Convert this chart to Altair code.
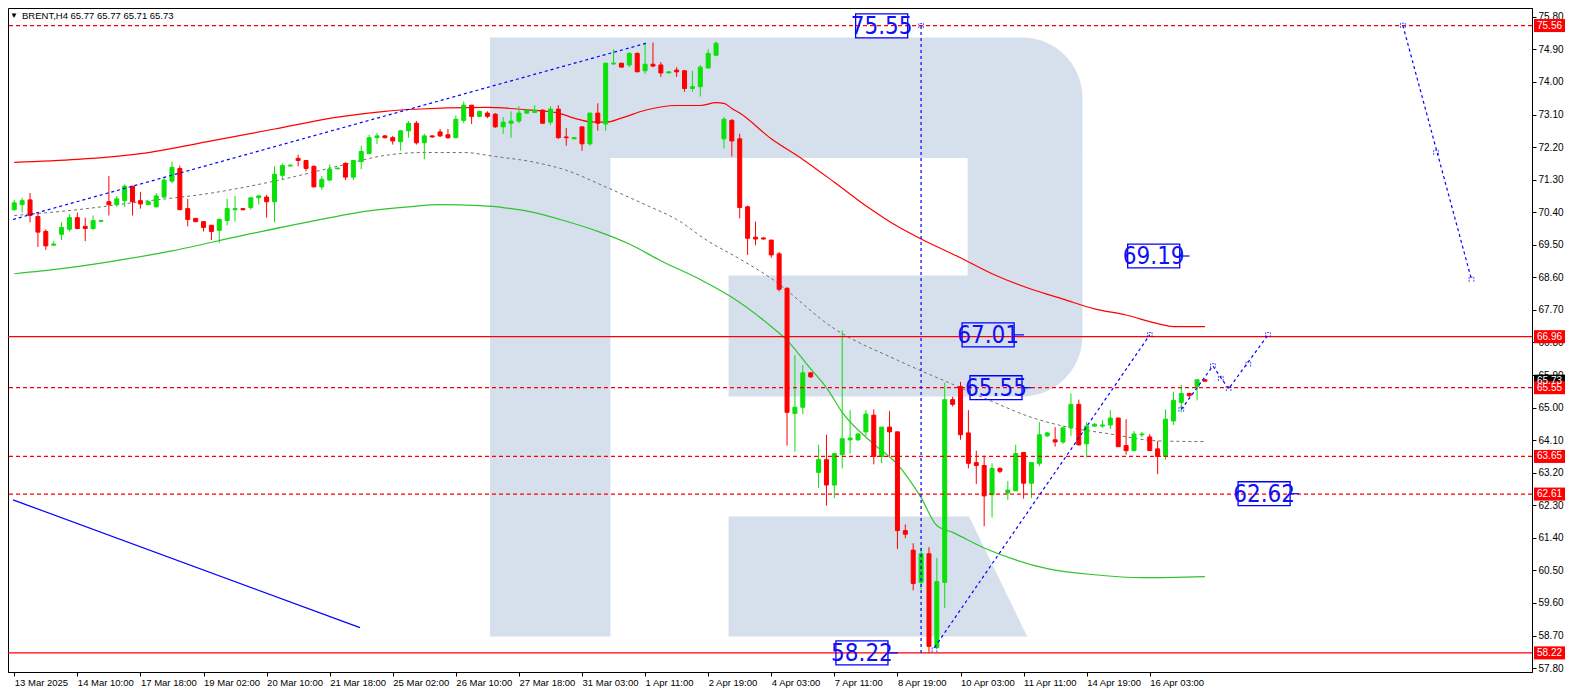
import altair as alt
import pandas as pd

# ---------------- data ----------------
opens = [70.47, 70.61, 70.74, 70.28, 69.87, 69.49, 69.79, 69.93, 70.25, 70.01,
         69.95, 70.15, 70.69, 70.61, 70.72, 71.12, 70.72, 70.61, 70.55, 70.82,
         71.26, 71.61, 70.50, 70.23, 70.14, 70.04, 69.90, 70.17, 70.47, 70.50,
         70.53, 70.80, 70.82, 70.69, 71.42, 71.68, 71.89, 71.83, 71.67, 71.10,
         71.29, 71.60, 71.75, 71.37, 71.80, 72.02, 72.46, 72.51, 72.46, 72.35,
         72.65, 72.86, 72.32, 72.51, 72.62, 72.54, 72.46, 72.94, 73.36, 73.05,
         73.14, 73.11, 72.76, 72.86, 72.92, 73.14, 73.16, 73.22, 72.89, 73.25,
         72.48, 72.43, 72.76, 72.29, 73.14, 72.84, 74.50, 74.52, 74.47, 74.79,
         74.31, 74.49, 74.47, 74.25, 74.33, 74.31, 73.82, 73.87, 74.39, 74.74,
         72.43, 72.94, 72.43, 70.55, 69.71, 69.69, 69.63, 69.25, 68.30, 64.84,
         65.01, 65.96, 63.21, 63.56, 62.86, 63.70, 64.11, 64.11, 64.33, 64.79,
         63.65, 64.46, 64.33, 61.60, 61.06, 60.17, 60.96, 58.37, 60.17, 65.22,
         65.58, 64.30, 63.48, 63.40, 62.59, 63.32, 62.64, 62.70, 63.76, 62.91,
         63.46, 64.22, 64.11, 64.05, 64.44, 65.09, 64.00, 64.49, 64.49, 64.52,
         64.71, 63.95, 63.81, 64.25, 64.19, 63.86, 63.65, 64.63, 65.14, 65.39,
         65.58, 65.77]
highs = [70.74, 70.80, 70.93, 70.39, 69.93, 69.60, 70.12, 70.34, 70.39, 70.25,
         70.31, 70.18, 71.40, 70.85, 71.17, 71.12, 70.96, 70.69, 70.93, 71.37,
         71.80, 71.69, 70.77, 70.23, 70.14, 70.04, 70.23, 70.77, 70.85, 70.52,
         70.80, 70.88, 70.88, 71.67, 71.75, 71.72, 71.99, 71.83, 71.69, 71.40,
         71.72, 71.63, 71.78, 71.83, 72.24, 72.54, 72.59, 72.53, 72.51, 72.67,
         72.92, 72.92, 72.57, 72.52, 72.70, 72.70, 73.07, 73.46, 73.36, 73.19,
         73.19, 73.14, 73.03, 73.19, 73.33, 73.24, 73.36, 73.25, 73.33, 73.36,
         72.73, 72.48, 72.76, 73.14, 73.41, 74.52, 74.90, 74.52, 74.82, 74.82,
         75.09, 75.09, 74.55, 74.30, 74.41, 74.33, 74.31, 74.47, 74.90, 75.12,
         73.03, 72.97, 72.57, 70.58, 70.14, 69.70, 69.63, 69.30, 68.32, 66.45,
         66.18, 65.98, 63.97, 64.25, 63.73, 67.13, 64.93, 64.30, 64.93, 64.95,
         64.46, 64.90, 64.33, 61.77, 61.25, 61.14, 61.14, 60.85, 65.69, 65.30,
         65.71, 64.93, 63.81, 63.67, 63.46, 63.35, 62.97, 63.97, 63.76, 63.48,
         64.60, 64.33, 64.46, 64.49, 65.39, 65.22, 64.60, 64.57, 64.65, 64.93,
         64.73, 64.68, 64.35, 64.33, 64.27, 64.08, 64.95, 65.44, 65.63, 65.41,
         65.77, 65.77]
lows = [70.44, 70.39, 70.12, 69.44, 69.36, 69.47, 69.63, 69.87, 69.93, 69.60,
        69.90, 70.14, 70.31, 70.55, 70.55, 70.31, 70.50, 70.61, 70.53, 70.80,
        71.20, 70.47, 70.01, 70.12, 69.87, 69.63, 69.55, 70.04, 70.14, 70.45,
        70.47, 70.61, 70.25, 70.12, 71.31, 71.67, 71.67, 71.53, 71.10, 71.02,
        71.26, 71.59, 71.29, 71.29, 71.59, 72.02, 72.29, 72.44, 72.27, 72.10,
        72.46, 72.27, 71.86, 72.46, 72.48, 72.43, 72.46, 72.86, 72.84, 73.05,
        73.00, 72.73, 72.57, 72.46, 72.86, 73.12, 73.14, 72.84, 72.81, 72.43,
        72.24, 72.42, 72.10, 72.24, 72.65, 72.65, 74.47, 74.41, 74.41, 74.28,
        74.22, 74.41, 74.14, 74.24, 74.14, 73.73, 73.73, 73.60, 74.36, 74.71,
        72.16, 71.94, 70.23, 69.22, 69.49, 69.64, 69.14, 68.21, 63.95, 63.78,
        64.82, 65.82, 62.78, 62.29, 62.50, 63.32, 63.73, 64.08, 64.22, 63.43,
        63.46, 63.67, 61.09, 61.39, 59.95, 59.98, 58.22, 58.37, 59.46, 65.03,
        64.11, 63.32, 62.89, 61.72, 61.96, 63.19, 62.45, 62.70, 62.48, 62.50,
        63.38, 64.19, 63.92, 64.00, 64.22, 63.95, 63.62, 64.46, 64.44, 64.41,
        63.92, 63.70, 63.81, 64.19, 63.81, 63.16, 63.56, 64.52, 64.87, 65.28,
        65.20, 65.71]
closes = [70.66, 70.72, 70.31, 69.85, 69.47, 69.52, 69.98, 70.25, 69.95, 69.95,
          70.17, 70.17, 70.61, 70.77, 71.12, 70.69, 70.63, 70.69, 70.85, 71.29,
          71.64, 70.47, 70.20, 70.14, 69.98, 69.87, 70.20, 70.50, 70.50, 70.47,
          70.80, 70.85, 70.69, 71.45, 71.69, 71.70, 71.83, 71.61, 71.10, 71.31,
          71.59, 71.62, 71.37, 71.83, 72.08, 72.46, 72.51, 72.46, 72.37, 72.65,
          72.86, 72.32, 72.51, 72.48, 72.51, 72.46, 72.97, 73.36, 73.05, 73.19,
          73.05, 72.76, 72.89, 72.92, 73.14, 73.22, 73.22, 72.86, 73.25, 72.46,
          72.46, 72.46, 72.29, 73.14, 72.86, 74.52, 74.52, 74.41, 74.79, 74.28,
          74.49, 74.44, 74.25, 74.28, 74.28, 73.82, 73.87, 74.41, 74.79, 75.07,
          72.97, 72.37, 70.53, 69.68, 69.66, 69.66, 69.22, 68.27, 64.87, 65.01,
          65.96, 65.85, 63.56, 62.86, 63.73, 64.14, 64.16, 64.27, 64.82, 63.65,
          64.46, 64.33, 61.60, 61.50, 60.14, 60.96, 58.40, 60.19, 65.22, 65.09,
          64.25, 63.46, 63.40, 62.56, 63.32, 63.24, 62.72, 63.73, 62.91, 63.48,
          64.25, 64.30, 64.05, 64.44, 65.09, 63.97, 64.49, 64.54, 64.52, 64.71,
          63.92, 63.81, 64.27, 64.27, 63.81, 63.65, 64.68, 65.20, 65.39, 65.33,
          65.77, 65.73]

time_labels = ["13 Mar 2025", "14 Mar 10:00", "17 Mar 18:00", "19 Mar 02:00",
               "20 Mar 10:00", "21 Mar 18:00", "25 Mar 02:00", "26 Mar 10:00",
               "27 Mar 18:00", "31 Mar 03:00", "1 Apr 11:00", "2 Apr 19:00",
               "4 Apr 03:00", "7 Apr 11:00", "8 Apr 19:00", "10 Apr 03:00",
               "11 Apr 11:00", "14 Apr 19:00", "16 Apr 03:00"]
time_label_bars = [0, 8, 16, 24, 32, 40, 48, 56, 64, 72, 80, 88, 96, 104, 112,
                   120, 128, 136, 144]

price_ticks = [57.80, 58.70, 59.60, 60.50, 61.40, 62.30, 63.20, 64.10, 65.00,
               65.90, 66.80, 67.70, 68.60, 69.50, 70.40, 71.30, 72.20, 73.10,
               74.00, 74.90, 75.80]

# envelope lines (bar index, price)
upper_bar = [0, 8, 16, 25, 33, 41, 47, 50, 60, 65, 69, 71, 73, 75, 77, 80, 84,
             87, 89, 90, 91, 92, 96, 100, 104, 108, 112, 115, 120, 124, 129,
             133, 137, 141, 145, 147, 151]
upper_val = [71.78, 71.86, 72.02, 72.37, 72.70, 73.03, 73.19, 73.24, 73.30,
             73.23, 73.14, 73.00, 72.90, 72.89, 73.00, 73.22, 73.35, 73.35,
             73.43, 73.41, 73.27, 73.14, 72.43, 71.86, 71.23, 70.58, 70.01,
             69.66, 69.14, 68.70, 68.27, 68.00, 67.73, 67.56, 67.32, 67.24,
             67.24]
lower_bar = [0, 6, 12, 20, 29, 37, 45, 50, 54, 59, 62, 66, 70, 74, 78, 82, 87,
             91, 96, 98, 101, 103, 105, 109, 112, 115, 117, 119, 123, 127, 131,
             137, 143, 151]
lower_val = [68.70, 68.84, 69.03, 69.33, 69.76, 70.12, 70.44, 70.55, 70.61,
             70.58, 70.53, 70.39, 70.15, 69.87, 69.52, 69.06, 68.54, 68.05,
             67.24, 66.86, 66.07, 65.55, 64.87, 63.99, 63.43, 62.51, 61.74,
             61.55, 61.12, 60.79, 60.55, 60.38, 60.30, 60.33]
mid_bar = [0, 8, 16, 25, 33, 41, 47, 52, 57, 61, 66, 70, 75, 80, 84, 88, 92,
           96, 104, 112, 120, 124, 129, 133, 139, 145, 151]
mid_val = [70.31, 70.47, 70.69, 70.93, 71.26, 71.67, 71.97, 72.05, 72.05,
           71.94, 71.78, 71.56, 71.10, 70.61, 70.20, 69.60, 69.11, 68.57,
           67.18, 66.31, 65.55, 65.17, 64.73, 64.49, 64.27, 64.08, 64.06]

# horizontal levels
solid_levels = [66.96, 58.22]
dashed_levels = [75.56, 65.55, 63.65, 62.61]
tag_prices = [75.56, 66.96, 65.55, 63.65, 62.61, 58.22]
current_price = 65.73

# blue drawn lines (bar index, price)
trend_bar = [-0.16, 80.46]
trend_val = [70.20, 75.09]
vline_bar = [115.0, 115.0]
vline_val = [75.55, 58.22]
diag_bar = [116.7, 144.0]
diag_val = [58.37, 67.01]
zig_bar = [148.0, 152.0, 154.0, 159.0]
zig_val = [64.95, 66.15, 65.52, 67.01]
far_bar = [176.1, 184.8]
far_val = [75.56, 68.54]
solid_bar = [-0.16, 43.84]
solid_val = [62.45, 58.92]

# small price-label markers on the drawn lines (bar index, price)
mark_bar_pos = [144.0, 148.0, 152.0, 153.0, 154.0, 156.5, 159.0, 115.0, 176.1, 180.3, 184.8, 116.7]
mark_val = [67.01, 64.95, 66.15, 65.80, 65.52, 66.20, 67.01, 75.55, 75.56, 72.05, 68.54, 58.30]

# boxed price notes
note_text = ["75.55", "67.01", "65.55", "69.19", "62.62", "58.22"]
note_bar = [110.0, 123.5, 124.5, 144.5, 158.5, 107.5]
note_val = [75.55, 67.01, 65.55, 69.19, 62.62, 58.22]
note_tail = [0.0, 1.25, 1.15, 1.25, 1.1, 1.25]

# watermark logo (bar index, price)
logo_x1 = [60.34, 120.9]
logo_x2 = [75.60, 135.46]
logo_y1 = [75.23, 71.97]
logo_y2 = [58.67, 68.60]
logo_top = dict(x1=[75.40], x2=[135.46], y1=[75.23], y2=[71.90])
logo_bot = dict(x1=[90.59], x2=[135.46], y1=[68.65], y2=[65.305])
leg_p = [61.988, 58.671]
leg_xa = [121.09, 128.46]
leg_xb = [90.59, 90.59]

# ---------------- chart ----------------
W, H = 1524, 664
X_DOM = [-0.16, 191.84]
Y_DOM = [57.692, 76.045]
GREEN = "#0be00b"
RED = "#ff0000"
BLUE = "#0000ff"
LOGO = "#d6e0ec"
NARROW = "Liberation Sans Narrow, Arial Narrow, DejaVu Sans Condensed, sans-serif"
AXFONT = "Liberation Sans, Arial, sans-serif"

xs = alt.Scale(domain=X_DOM, nice=False, zero=False)
ys = alt.Scale(domain=Y_DOM, nice=False, zero=False)

label_js = "[" + ",".join("'%s'" % t for t in time_labels) + "]"
x_axis = alt.Axis(values=time_label_bars, labelExpr=label_js + "[round(datum.value/8)]",
                  orient="bottom", labelAlign="left", labelPadding=1, tickSize=4,
                  labelFontSize=9.5, labelFont=AXFONT, labelColor="#000000",
                  tickColor="#000000", domainColor="#000000", grid=False,
                  labelOverlap=False, labelFlush=False, title=None)
y_axis = alt.Axis(values=price_ticks, format=".2f", orient="right", tickSize=4,
                  labelPadding=2, labelFontSize=10, labelFont=AXFONT,
                  labelColor="#000000", tickColor="#000000", domainColor="#000000",
                  grid=False, labelOverlap=False, labelFlush=False, title=None)


def X(f):
    return alt.X(f, type="quantitative", scale=xs, axis=x_axis, title=None)


def Y(f):
    return alt.Y(f, type="quantitative", scale=ys, axis=y_axis, title=None)


n = len(opens)
cdf = pd.DataFrame({"i": list(range(n)), "o": opens, "h": highs, "l": lows, "c": closes})
cdf["col"] = [GREEN if c >= o else RED for o, c in zip(opens, closes)]

# logo
logo_a = alt.Chart(pd.DataFrame({"x1": logo_x1, "x2": logo_x2, "y1": logo_y1, "y2": logo_y2})).mark_rect(
    color=LOGO).encode(x=X("x1"), x2="x2", y=Y("y1"), y2="y2")
logo_b = alt.Chart(pd.DataFrame(logo_top)).mark_rect(color=LOGO, cornerRadiusTopRight=118).encode(
    x=X("x1"), x2="x2", y=Y("y1"), y2="y2")
logo_c = alt.Chart(pd.DataFrame(logo_bot)).mark_rect(color=LOGO, cornerRadiusBottomRight=118).encode(
    x=X("x1"), x2="x2", y=Y("y1"), y2="y2")
logo_d = alt.Chart(pd.DataFrame({"p": leg_p, "xa": leg_xa, "xb": leg_xb})).mark_area(
    color=LOGO, orient="horizontal").encode(y=Y("p"), x=X("xa"), x2="xb")

# envelopes
up_line = alt.Chart(pd.DataFrame({"b": upper_bar, "v": upper_val})).mark_line(
    color="#ff0000", strokeWidth=1.2, interpolate="monotone").encode(x=X("b"), y=Y("v"))
lo_line = alt.Chart(pd.DataFrame({"b": lower_bar, "v": lower_val})).mark_line(
    color="#2ec42e", strokeWidth=1.2, interpolate="monotone").encode(x=X("b"), y=Y("v"))
mid_line = alt.Chart(pd.DataFrame({"b": mid_bar, "v": mid_val})).mark_line(
    color="#6e6e6e", strokeWidth=1, strokeDash=[3, 3], interpolate="monotone").encode(x=X("b"), y=Y("v"))

# candles
wicks = alt.Chart(cdf).mark_rule(strokeWidth=1).encode(
    x=X("i"), y=Y("l"), y2="h",
    color=alt.Color("col:N", scale=None))
bodies = alt.Chart(cdf).mark_bar(size=4, strokeWidth=1).encode(
    x=X("i"), y=Y("o"), y2="c",
    color=alt.Color("col:N", scale=None),
    stroke=alt.Stroke("col:N", scale=None))

# levels
lev_solid = alt.Chart(pd.DataFrame({"p": solid_levels})).mark_rule(
    color=RED, strokeWidth=1.3).encode(y=Y("p"))
lev_dash = alt.Chart(pd.DataFrame({"p": dashed_levels})).mark_rule(
    color=RED, strokeWidth=1.2, strokeDash=[4, 3]).encode(y=Y("p"))

# blue drawn lines
segs = []
for g, (bs, vs) in enumerate([(trend_bar, trend_val), (vline_bar, vline_val), (diag_bar, diag_val),
                               (zig_bar, zig_val), (far_bar, far_val)]):
    for k, (b, v) in enumerate(zip(bs, vs)):
        segs.append({"g": g, "k": k, "b": b, "v": v})
dotted = alt.Chart(pd.DataFrame(segs)).mark_line(
    color=BLUE, strokeWidth=1.2, strokeDash=[3, 3]).encode(
    x=X("b"), y=Y("v"), detail="g:N", order="k:Q")
solid_blue = alt.Chart(pd.DataFrame({"b": solid_bar, "v": solid_val})).mark_line(
    color=BLUE, strokeWidth=1.2).encode(x=X("b"), y=Y("v"))
markers = alt.Chart(pd.DataFrame({"b": mark_bar_pos, "v": mark_val})).mark_point(
    shape="M-1,1V-1H1V1", size=22, filled=False, color=BLUE, strokeWidth=1,
    strokeDash=[2, 1]).encode(x=X("b"), y=Y("v"))

# boxed notes
ndf = pd.DataFrame({"t": note_text, "b": note_bar, "v": note_val, "tail": note_tail})
note_base = alt.Chart(ndf).transform_calculate(
    bx1="datum.b - 3.3", bx2="datum.b + 3.3", by1="datum.v - 0.33", by2="datum.v + 0.33",
    tx="datum.b + 3.3 + datum.tail")
note_box = note_base.mark_rect(fill="#ffffff", fillOpacity=0, stroke=BLUE, strokeWidth=1.3).encode(
    x=X("bx1:Q"), x2="bx2:Q", y=Y("by1:Q"), y2="by2:Q")
note_tick = note_base.mark_rule(color=BLUE, strokeWidth=1.2).encode(
    x=X("bx2:Q"), x2="tx:Q", y=Y("v"))
note_txt = note_base.mark_text(font=NARROW, fontSize=24, color="#1010f0", align="center",
                               baseline="middle", dy=1).encode(x=X("b"), y=Y("v"), text="t:N")

# right-axis price tags
tdf = pd.DataFrame({"p": [current_price] + tag_prices,
                    "col": ["#000000"] + [RED] * len(tag_prices)})
tdf["lbl"] = ["%.2f" % p for p in tdf["p"]]
tag_base = alt.Chart(tdf).transform_calculate(lo="datum.p - 0.18", hi="datum.p + 0.18")
tag_box = tag_base.mark_rect().encode(
    x=alt.value(W + 2), x2=alt.value(W + 33), y=Y("lo:Q"), y2="hi:Q",
    color=alt.Color("col:N", scale=None))
tag_txt = tag_base.mark_text(color="#ffffff", fontSize=10, font=AXFONT, align="center",
                             baseline="middle").encode(x=alt.value(W + 17.5), y=Y("p"), text="lbl:N")

# header
header = "BRENT,H4  %.2f %.2f %.2f %.2f" % (opens[-1], highs[-1], lows[-1], closes[-1])
head_txt = alt.Chart(pd.DataFrame({"t": [header]})).mark_text(
    fontSize=9.5, font=AXFONT, color="#000000", align="left", baseline="middle").encode(
    x=alt.value(14), y=alt.value(8), text="t:N")
head_tri = alt.Chart(pd.DataFrame({"t": ["\u25bc"]})).mark_text(
    fontSize=8, color="#000000", align="center", baseline="middle").encode(
    x=alt.value(6), y=alt.value(8), text="t:N")

chart = alt.layer(
    logo_a, logo_b, logo_c, logo_d,
    up_line, lo_line, mid_line,
    wicks, bodies,
    lev_solid, lev_dash,
    dotted, solid_blue, markers,
    note_box, note_tick, note_txt,
    tag_box, tag_txt,
    head_tri, head_txt,
).properties(
    width=W, height=H,
    autosize=alt.AutoSizeParams(type="none"),
    padding={"left": 0, "top": 0, "right": 38, "bottom": 18},
    background="#ffffff",
).configure_view(stroke="#000000", strokeWidth=1)

chart.save("out.html", embed_options={"renderer": "svg", "actions": False})
